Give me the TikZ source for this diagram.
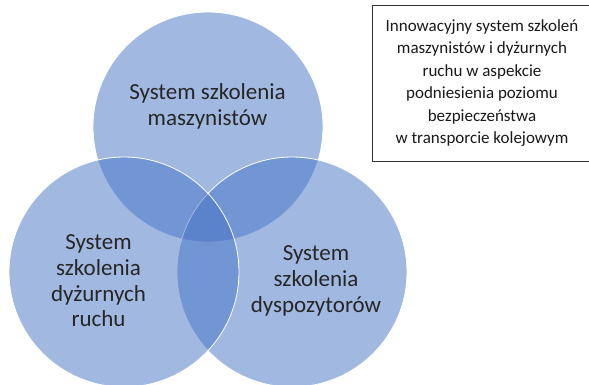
\documentclass[tikz,border=0pt]{standalone}
\usepackage{fontspec}
\setmainfont{Carlito}
\usepackage{xcolor}
\usepackage{tikz}
\usetikzlibrary{
  positioning,
  calc,
  backgrounds}
\definecolor{vennblue}{HTML}{4472C4}
\tikzset{venn/.style={fill=vennblue, fill opacity=0.5, draw=white, draw opacity=1, line width=0.8pt},
         venntext/.style={align=center, text=black!85, inner sep=0pt, font=\fontsize{23}{25.7}\selectfont},
         infobox/.style={draw=black!80, line width=0.8pt, align=center, text=black!90, inner sep=0pt,
                         minimum width=220pt, minimum height=156pt, font=\fontsize{17}{22.4}\selectfont}
        }

\begin{document}
\begin{tikzpicture}[x=1pt, y=-1pt]

\useasboundingbox (0,0) rectangle (589,384);
\clip (0,0) rectangle (589,384);

%circle centres
\coordinate (ctop) at (208,127);
\coordinate (cleft) at (124,272);
\coordinate (cright) at (292,272);

\coordinate (ttop) at (207.5,106.5);
\coordinate (tleft) at (98.5,281);
\coordinate (tright) at (316,281);
\coordinate (tinfo) at (482,83);

%three circles
\draw[venn] (ctop) circle (115pt);
\draw[venn] (cright) circle (115pt);
\draw[venn] (cleft) circle (115pt);

\node[venntext] (maszynisci) at (ttop) {System szkolenia\\maszynistów};
\node[venntext] (dyzurni) at (tleft) {System\\szkolenia\\dyżurnych\\ruchu};
\node[venntext] (dyspozytorzy) at (tright) {System\\szkolenia\\dyspozytorów};

%title box
\node[infobox] (opis) at (tinfo) {Innowacyjny system szkoleń\\maszynistów i dyżurnych\\ruchu w aspekcie\\podniesienia poziomu\\bezpieczeństwa\\w transporcie kolejowym};

\end{tikzpicture}
\end{document}
